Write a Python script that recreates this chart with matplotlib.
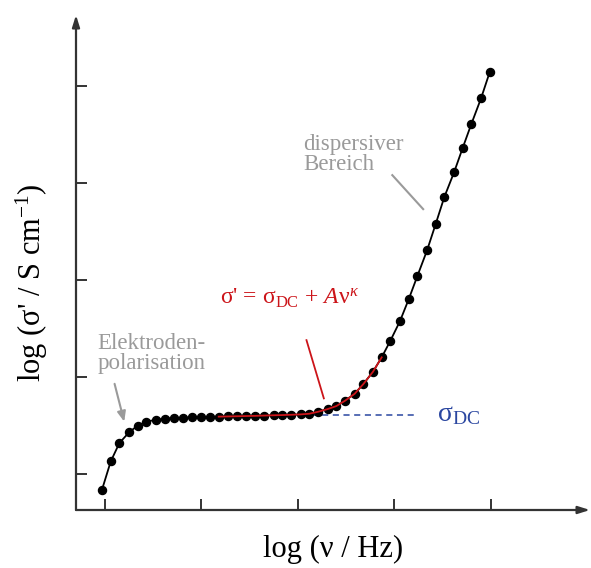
import matplotlib
matplotlib.use('Agg')
import matplotlib.pyplot as plt
import numpy as np

plt.rcParams['font.family'] = ['Liberation Serif', 'DejaVu Serif']
plt.rcParams['mathtext.fontset'] = 'custom'
plt.rcParams['mathtext.rm'] = 'Liberation Serif'
plt.rcParams['mathtext.it'] = 'Liberation Serif:italic'

# log frequency (arbitrary units, ticks at 0..4)
log_nu = [-0.03, 0.06, 0.15, 0.25, 0.34, 0.43, 0.53, 0.62, 0.72, 0.81,
          0.90, 1.00, 1.09, 1.18, 1.28, 1.37, 1.46, 1.56, 1.65, 1.75,
          1.84, 1.93, 2.03, 2.12, 2.21, 2.31, 2.40, 2.49, 2.59, 2.68,
          2.78, 2.87, 2.96, 3.06, 3.15, 3.24, 3.34, 3.43, 3.52, 3.62,
          3.71, 3.80, 3.90, 3.99]
# log conductivity
log_sigma = [-0.16, 0.13, 0.32, 0.43, 0.50, 0.54, 0.56, 0.57, 0.58, 0.58,
             0.585, 0.588, 0.590, 0.592, 0.594, 0.596, 0.598, 0.600, 0.603, 0.606,
             0.608, 0.611, 0.615, 0.622, 0.642, 0.670, 0.701, 0.756, 0.828, 0.928,
             1.055, 1.203, 1.374, 1.577, 1.801, 2.041, 2.304, 2.577, 2.856, 3.108,
             3.361, 3.608, 3.871, 4.141]
fit_from, fit_to = 13, 32   # range of the red fit
sigma_dc = 0.608
dc_x = [1.92, 3.24]
ticks = [0, 1, 2, 3, 4]

black = '#000000'
red = '#cc1419'
blue = '#2a46a0'
grey = '#9a9a9a'
axis_col = '#333333'

fig = plt.figure(figsize=(5.91, 5.68), dpi=100)
ax = fig.add_axes([76 / 591, 58 / 568, (590 - 76) / 591, (510 - 15) / 568])
ax.set_xlim(-0.30, 5.03)
ax.set_ylim(-0.37, 4.73)
for s in ax.spines.values():
    s.set_visible(False)

# axes with arrows
ax.annotate('', xy=(1, 0), xytext=(0, 0), xycoords='axes fraction',
            arrowprops=dict(arrowstyle='-|>,head_length=0.7,head_width=0.22',
                            color=axis_col, lw=1.6, shrinkA=0, shrinkB=0))
ax.annotate('', xy=(0, 1), xytext=(0, 0), xycoords='axes fraction',
            arrowprops=dict(arrowstyle='-|>,head_length=0.7,head_width=0.22',
                            color=axis_col, lw=1.6, shrinkA=0, shrinkB=0))

ax.set_xticks(ticks)
ax.set_yticks(ticks)
ax.tick_params(direction='in', length=8, width=1.2, color='#111111',
               labelbottom=False, labelleft=False)

# data
ax.plot(log_nu, log_sigma, '-', color=black, lw=1.3, zorder=3)
ax.plot(log_nu, log_sigma, 'o', color=black, ms=5.8, zorder=4)
ax.plot(log_nu[fit_from:fit_to], log_sigma[fit_from:fit_to], '-', color=red, lw=1.3, zorder=5)

ax.plot(dc_x, [sigma_dc, sigma_dc], '--', color=blue, lw=1.1, dashes=(4, 3), zorder=2)
ax.text(3.44, sigma_dc, r'σ$_\mathrm{DC}$', color=blue, fontsize=20, va='center', ha='left')

# fit label
ax.text(1.91, 1.81, r"σ' = σ$_\mathrm{DC}$ + $A$ν$^\kappa$", color=red, fontsize=17,
        ha='center', va='center')
ax.plot([2.09, 2.27], [1.38, 0.78], color=red, lw=1.3)

# annotations
ax.text(2.06, 3.29, 'dispersiver\nBereich', color=grey, fontsize=16.5,
        ha='left', va='center', linespacing=0.95)
ax.plot([2.98, 3.30], [3.08, 2.73], color=grey, lw=1.5)

ax.text(-0.08, 1.24, 'Elektroden-\npolarisation', color=grey, fontsize=16.5,
        ha='left', va='center', linespacing=0.95)
ax.annotate('', xy=(0.20, 0.54), xytext=(0.10, 0.93),
            arrowprops=dict(arrowstyle='-|>,head_length=0.6,head_width=0.25',
                            color=grey, lw=1.5, shrinkA=0, shrinkB=0))

ax.set_xlabel('log (ν / Hz)', fontsize=22, labelpad=18)
ax.set_ylabel(r"log (σ' / S cm$^{-1}$)", fontsize=22)
ax.yaxis.set_label_coords(-0.05, 0.46)

fig.savefig('out.png', dpi=100)
